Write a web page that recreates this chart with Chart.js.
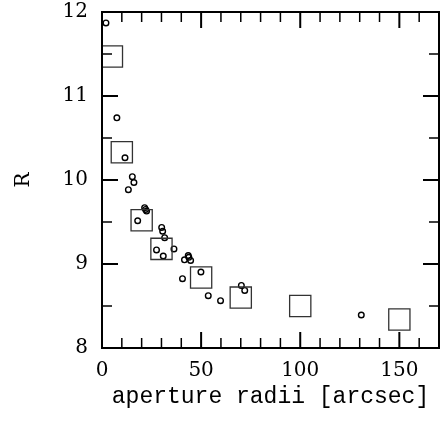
<!DOCTYPE html>
<html>
<head>
<meta charset="utf-8">
<script src="https://cdn.jsdelivr.net/npm/chart.js@4/dist/chart.umd.min.js"></script>
<style>
html,body{margin:0;padding:0;background:#fff;}
#wrap{width:447px;height:421px;}
</style>
</head>
<body>
<div id="wrap"><canvas id="c" width="447" height="421"></canvas></div>
<script>
// Aperture photometry: large squares = binned values, small circles = individual measurements
const squareX = [5, 10, 20, 30, 50, 70, 100, 150];
const squareR = [11.47, 10.33, 9.52, 9.18, 8.84, 8.60, 8.50, 8.34];

const circleX = [2, 7.5, 11.6, 15.3, 16.1, 13.3, 21.5, 22, 22.5, 18, 30.1, 30.6, 31.6, 27.5, 36.3, 30.9, 43.5, 43.8, 41.6, 44.7, 49.9, 40.6, 53.6, 59.8, 70.3, 72, 130.8];
const circleR = [11.87, 10.74, 10.265, 10.04, 9.97, 9.885, 9.67, 9.65, 9.63, 9.515, 9.436, 9.39, 9.313, 9.167, 9.179, 9.095, 9.10, 9.08, 9.05, 9.043, 8.905, 8.825, 8.623, 8.563, 8.745, 8.685, 8.393];

const xTickLabels = [0, 50, 100, 150];
const yTickLabels = [8, 9, 10, 11, 12];
const xRange = [0, 170];
const yRange = [8, 12];
const xMinorStep = 10, xMajorStep = 50;
const yMinorStep = 0.5, yMajorStep = 1;

const toPts = (xs, ys) => xs.map((x, i) => ({x: x, y: ys[i]}));

const frameTicks = {
  id: 'frameTicks',
  afterDatasetsDraw(chart) {
    const {ctx, chartArea: a, scales: {x, y}} = chart;
    ctx.save();
    ctx.strokeStyle = '#000';
    ctx.lineCap = 'butt';
    const majLen = 16, minLen = 10;
    for (let v = xRange[0]; v <= xRange[1] + 1e-9; v += xMinorStep) {
      const px = x.getPixelForValue(v);
      const major = Math.abs(v % xMajorStep) < 1e-9;
      const L = major ? majLen : minLen;
      ctx.lineWidth = major ? 2 : 1.5;
      ctx.beginPath();
      ctx.moveTo(px, a.bottom); ctx.lineTo(px, a.bottom - L);
      ctx.moveTo(px, a.top); ctx.lineTo(px, a.top + L);
      ctx.stroke();
    }
    for (let v = yRange[0]; v <= yRange[1] + 1e-9; v += yMinorStep) {
      const py = y.getPixelForValue(v);
      const major = Math.abs(v % yMajorStep) < 1e-9;
      const L = major ? majLen : minLen;
      ctx.lineWidth = major ? 2 : 1.5;
      ctx.beginPath();
      ctx.moveTo(a.left, py); ctx.lineTo(a.left + L, py);
      ctx.moveTo(a.right, py); ctx.lineTo(a.right - L, py);
      ctx.stroke();
    }
    ctx.lineWidth = 2;
    ctx.strokeRect(a.left, a.top, a.right - a.left, a.bottom - a.top);
    ctx.restore();
  }
};

new Chart(document.getElementById('c'), {
  type: 'scatter',
  data: {
    datasets: [
      {
        label: 'binned',
        data: toPts(squareX, squareR),
        pointStyle: 'rect',
        pointRadius: 15,
        pointBorderWidth: 1.3,
        pointBorderColor: '#333',
        pointBackgroundColor: 'rgba(0,0,0,0)',
        showLine: false
      },
      {
        label: 'apertures',
        data: toPts(circleX, circleR),
        pointStyle: 'circle',
        pointRadius: 2.8,
        pointBorderWidth: 1.4,
        pointBorderColor: '#000',
        pointBackgroundColor: 'rgba(0,0,0,0)',
        showLine: false
      }
    ]
  },
  options: {
    responsive: false,
    animation: false,
    devicePixelRatio: 1,
    layout: {autoPadding: false, padding: {top: 12, right: 8, left: 0, bottom: 0}},
    plugins: {legend: {display: false}, tooltip: {enabled: false}},
    scales: {
      x: {
        type: 'linear',
        min: xRange[0], max: xRange[1],
        afterBuildTicks: (s) => { s.ticks = xTickLabels.concat([xRange[1]]).map(v => ({value: v})); },
        afterFit: (s) => { s.height = 73; s.paddingLeft = 0; s.paddingRight = 0; },
        grid: {display: false, drawTicks: false},
        border: {display: false},
        ticks: {color: '#000', padding: 11, maxRotation: 0, autoSkip: false,
                callback: (v) => xTickLabels.includes(v) ? String(v) : '',
                font: {family: 'DejaVu Serif', size: 20}},
        title: {display: true, text: 'aperture radii [arcsec]', color: '#000',
                padding: {top: 0, bottom: 10},
                font: {family: 'Liberation Mono', size: 23}}
      },
      y: {
        type: 'linear',
        min: yRange[0], max: yRange[1],
        afterBuildTicks: (s) => { s.ticks = yTickLabels.map(v => ({value: v})); },
        afterFit: (s) => { s.width = 102; s.paddingTop = 0; s.paddingBottom = 0; },
        grid: {display: false, drawTicks: false},
        border: {display: false},
        ticks: {color: '#000', padding: 14, autoSkip: false,
                font: {family: 'DejaVu Serif', size: 20}},
        title: {display: true, text: 'R', color: '#000',
                padding: {top: 12, bottom: 0},
                font: {family: 'DejaVu Serif', size: 20}}
      }
    }
  },
  plugins: [frameTicks]
});
</script>
</body>
</html>
